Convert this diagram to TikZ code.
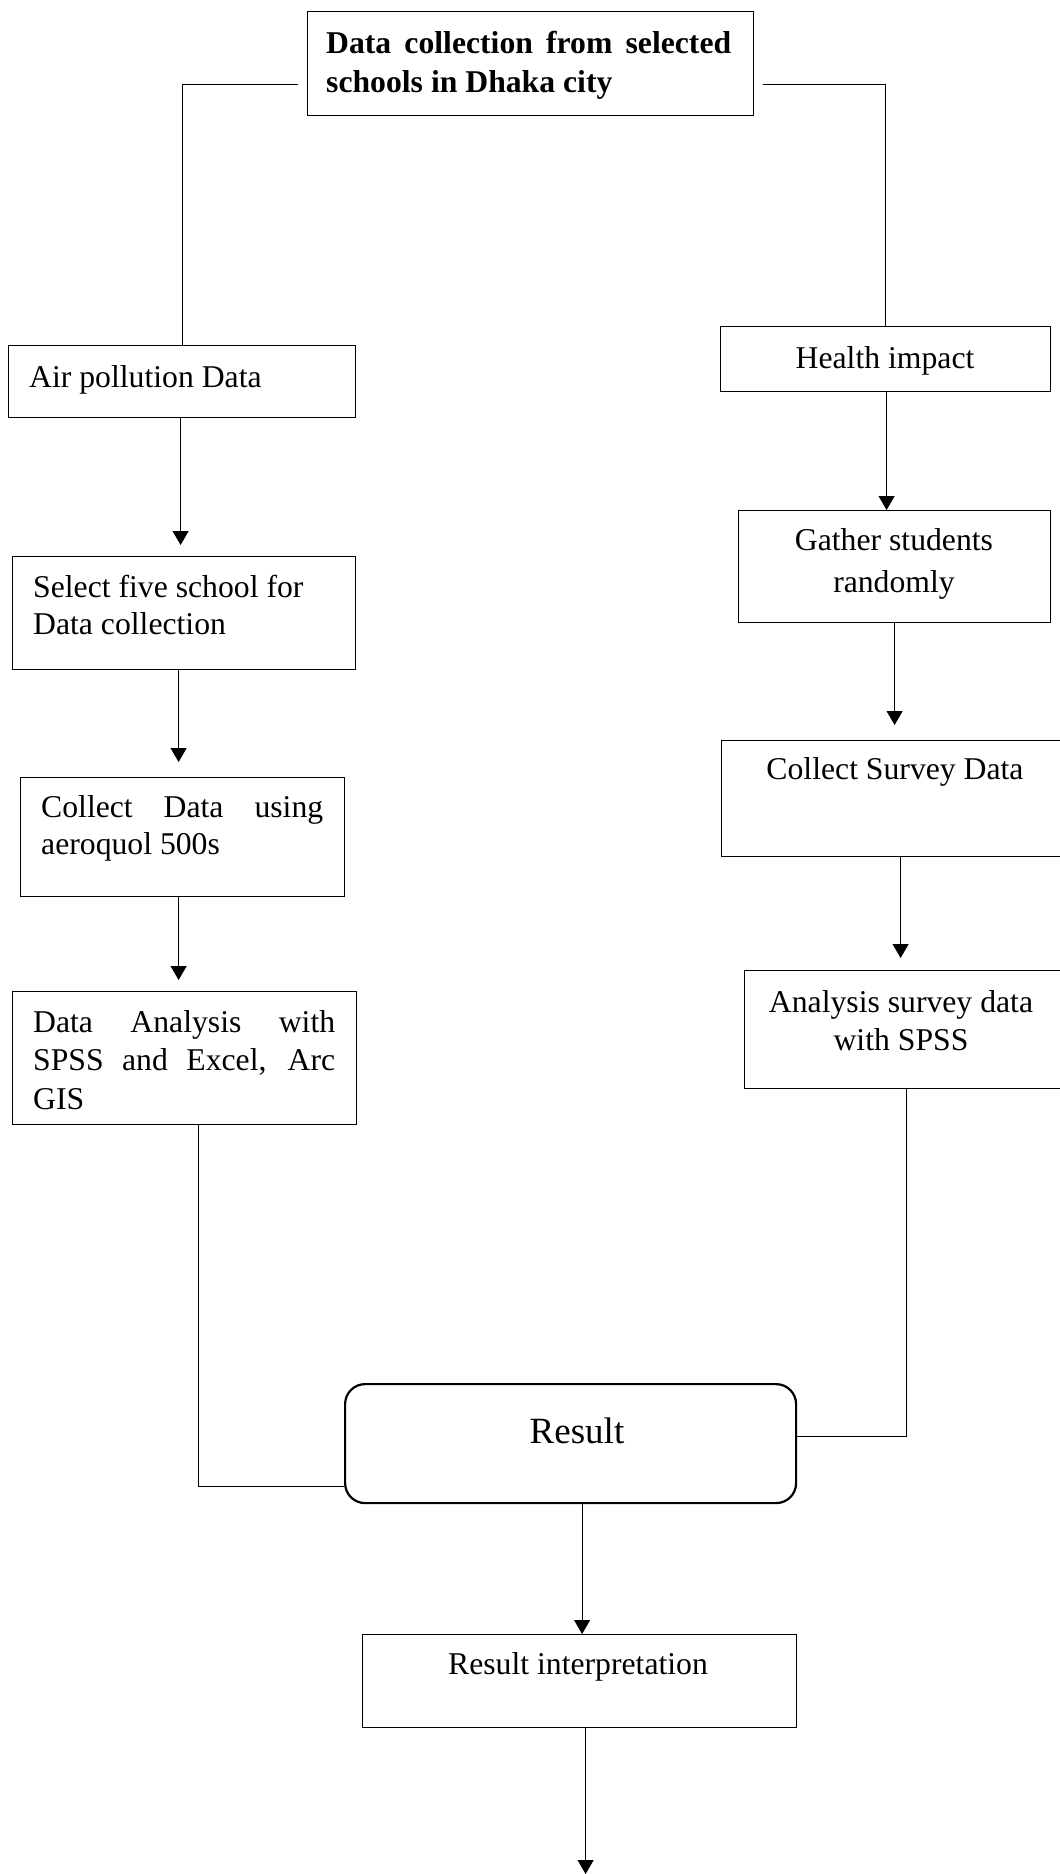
\documentclass[tikz,border=0pt]{standalone}
\usepackage{fontspec}
\setmainfont{Liberation Serif}
\usetikzlibrary{arrows.meta,calc}
\begin{document}
\begin{tikzpicture}[x=1pt,y=-1pt,
  box/.style={draw=black, line width=1.2pt, inner sep=0pt, anchor=north west},
  txt/.style={inner sep=0pt, font=\fontsize{31.7}{37}\selectfont},
  conn/.style={draw=black, line width=1pt},
  arr/.style={conn, -{Triangle[width=16pt,length=14pt]}},
]
\useasboundingbox (0,0) rectangle (1060,1874);

% boxes
\node[box, minimum width=446pt, minimum height=104pt] (top) at (307,11) {};
\node[box, minimum width=347pt, minimum height=72pt] (air) at (8,345) {};
\node[box, minimum width=343pt, minimum height=113pt] (sel) at (12,556) {};
\node[box, minimum width=324pt, minimum height=119pt] (col) at (20,777) {};
\node[box, minimum width=344pt, minimum height=133pt] (ana) at (12,991) {};
\node[box, minimum width=330pt, minimum height=65pt] (hi) at (720,326) {};
\node[box, minimum width=312pt, minimum height=112pt] (gat) at (738,510) {};
\node[box, minimum width=339pt, minimum height=116pt] (csv) at (721,740) {};
\node[box, minimum width=316pt, minimum height=118pt] (asv) at (744,970) {};
\node[box, line width=2.2pt, rounded corners=20pt, minimum width=451pt, minimum height=119pt] (res) at (344,1383) {};
\node[box, minimum width=434pt, minimum height=93pt] (rin) at (362,1634) {};

% texts
\node[txt, anchor=base west] (ttop1) at (326,53) {\bfseries\makebox[405pt][s]{Data collection from selected}};
\node[txt, anchor=base west] (ttop2) at (326,92) {\bfseries schools in Dhaka city};
\node[txt, anchor=base west] (tair) at (29,387) {Air pollution Data};
\node[txt, anchor=base west] (tsel1) at (33,597) {Select five school for};
\node[txt, anchor=base west] (tsel2) at (33,634) {Data collection};
\node[txt, anchor=base west] (tcol1) at (41,817) {\makebox[282pt][s]{Collect Data using}};
\node[txt, anchor=base west] (tcol2) at (41,854) {aeroquol 500s};
\node[txt, anchor=base west] (tana1) at (33,1032) {\makebox[302pt][s]{Data Analysis with}};
\node[txt, anchor=base west] (tana2) at (33,1070) {\makebox[302pt][s]{SPSS and Excel, Arc}};
\node[txt, anchor=base west] (tana3) at (33,1109) {GIS};
\node[txt, anchor=base] (thi) at (885,368) {Health impact};
\node[txt, anchor=base] (tgat1) at (894,550) {Gather students};
\node[txt, anchor=base] (tgat2) at (894,592) {randomly};
\node[txt, anchor=base] (tcsv) at (895,779) {Collect Survey Data};
\node[txt, anchor=base] (tasv1) at (901,1012) {Analysis survey data};
\node[txt, anchor=base] (tasv2) at (901,1050) {with SPSS};
\node[txt, anchor=base, font=\fontsize{37}{44}\selectfont] (tres) at (577,1443) {Result};
\node[txt, anchor=base] (trin) at (578,1674) {Result interpretation};

% connectors from top box
\coordinate (tl) at (298,84);
\coordinate (tr) at (763,84);
\draw[conn] (tl) -| (air.north);
\draw[conn] (tr) -| (hi.north);

% left column
\coordinate (a1) at ([xshift=-1.5pt]air.south);
\draw[arr, shorten >=11pt] (a1) -- (a1 |- sel.north);
\coordinate (a2) at ([xshift=-5.5pt]sel.south);
\draw[arr, shorten >=15pt] (a2) -- (a2 |- col.north);
\coordinate (a3) at ([xshift=-4pt]col.south);
\draw[arr, shorten >=11pt] (a3) -- (a3 |- ana.north);
\coordinate (a4) at ([xshift=14pt]ana.south);
\draw[conn] (a4) |- ([yshift=18pt]res.south west);

% right column
\coordinate (b1) at ([xshift=1pt]hi.south);
\draw[arr] (b1) -- (b1 |- gat.north);
\coordinate (b2) at (gat.south);
\draw[arr, shorten >=15pt] (b2) -- (b2 |- csv.north);
\coordinate (b3) at ([xshift=9.5pt]csv.south);
\draw[arr, shorten >=12pt] (b3) -- (b3 |- asv.north);
\coordinate (b4) at ([xshift=4pt]asv.south);
\draw[conn] (b4) |- ([yshift=7.5pt]res.east);

% bottom
\coordinate (c1) at ([xshift=11.5pt]res.south);
\draw[arr] (c1) -- (c1 |- rin.north);
\coordinate (c2) at ([xshift=6pt]rin.south);
\draw[arr] (c2) -- (c2 |- 0,1874);
\end{tikzpicture}
\end{document}
